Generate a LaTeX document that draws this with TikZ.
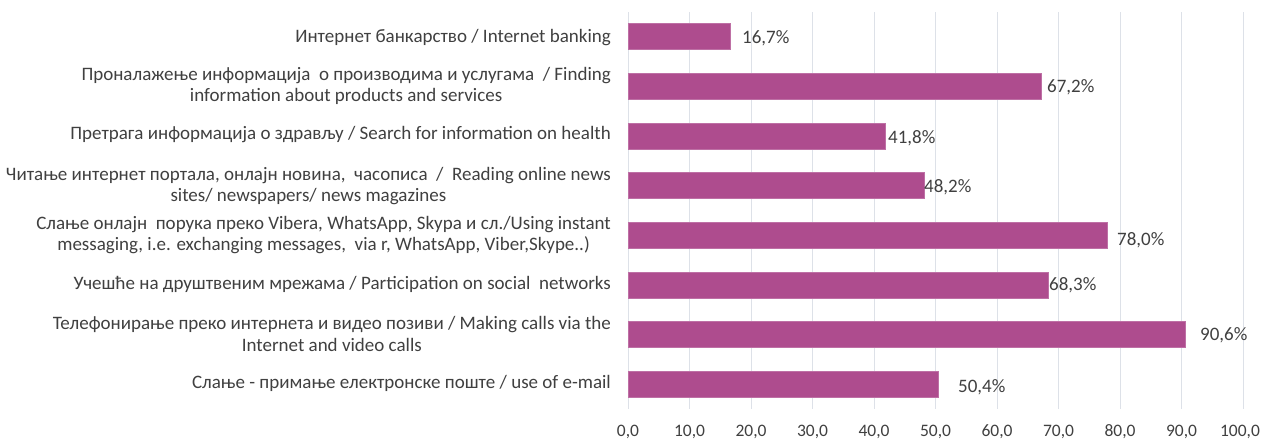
\documentclass[tikz,border=0pt]{standalone}
\usepackage{fontspec}
\setmainfont{Carlito}
\definecolor{barc}{HTML}{AE4C8E}
\definecolor{gridc}{HTML}{DDE1E8}
\definecolor{txt}{HTML}{404040}
\begin{document}
\begin{tikzpicture}[x=1pt,y=-1pt,
  lbl/.style={anchor=east,align=center,text=txt,font=\fontsize{19}{21.5}\selectfont,inner sep=0pt},
  val/.style={anchor=west,text=txt,font=\fontsize{19}{21}\selectfont,inner sep=0pt},
  tick/.style={anchor=base,text=txt,font=\fontsize{17.5}{20}\selectfont,inner sep=0pt},
  bar/.style={fill=barc,draw=barc!80!white,line width=0.6pt}]
\useasboundingbox (0,0) rectangle (1261,439);
\fill[white] (0,0) rectangle (1261,439);
% grid
\foreach \i in {0,...,10}{
  \draw[gridc,line width=1pt] ({628+61.5*\i},12) -- ({628+61.5*\i},409);
}
\foreach \i in {0,...,9}{
  \pgfmathtruncatemacro{\v}{10*\i}
  \node[tick] (t\i) at ({628+61.5*\i},436) {\v,0};
}
\node[tick] (t10) at (1240,436) {100,0};
% bars
\foreach \v/\y [count=\k] in {16.7/36,67.2/86,41.8/136,48.2/185,78.0/235,68.3/285,90.6/334,50.4/384}{
  \draw[bar] (628,\y-13) rectangle ({628+6.15*\v},\y+13);
}
% value labels
\node[val] (v1) at (742,38) {16,7\%};
\node[val] (v2) at (1047,87) {67,2\%};
\node[val] (v3) at (888,138) {41,8\%};
\node[val] (v4) at (924,187) {48,2\%};
\node[val] (v5) at (1117,240) {78,0\%};
\node[val] (v6) at (1049,285) {68,3\%};
\node[val] (v7) at (1200,335) {90,6\%};
\node[val] (v8) at (958,387) {50,4\%};
% category labels
\node[lbl] (c1) at (611,38) {Интернет банкарство / Internet banking};
\node[lbl] (c2) at (611,86) {Проналажење информација \ о производима и услугама \ / Finding\\information about products and services};
\node[lbl] (c3) at (611,135) {Претрага информација о здрављу / Search for information on health};
\node[lbl] (c4) at (611,186) {Читање интернет портала, онлајн новина, \ часописа \ / \ Reading online news\\sites/ newspapers/ news magazines};
\node[lbl] (c5) at (611,235) {Слање онлајн \ порука преко Vibera, WhatsApp, Skypa и сл./Using instant\\messaging, i.e. exchanging messages, \ via r, WhatsApp, Viber,Skype..)};
\node[lbl] (c6) at (611,284) {Учешће на друштвеним мрежама / Participation on social \ networks};
\node[lbl] (c7) at (611,334) {Телефонирање преко интернета и видео позиви / Making calls via the\\Internet and video calls};
\node[lbl] (c8) at (611,383) {Слање - примање електронске поште / use of e-mail};
\end{tikzpicture}
\end{document}
